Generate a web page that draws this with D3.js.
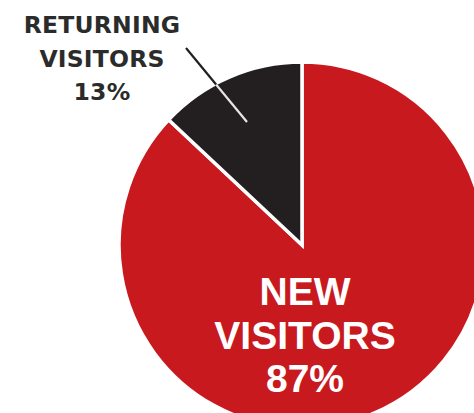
<!DOCTYPE html>
<html>
<head>
<meta charset="utf-8">
<script src="https://cdn.jsdelivr.net/npm/d3@7"></script>
<style>
  html, body { margin: 0; padding: 0; background: #ffffff; }
  svg { display: block; }
</style>
</head>
<body>
<svg id="chart" width="474" height="413"></svg>
<script>
// Visitor share
const categories = ["NEW VISITORS", "RETURNING VISITORS"];
const values = [87, 13];
const colors = ["#c8191f", "#231f20"];

const W = 474, H = 413;
const cx = 302, cy = 245, r = 183;

const svg = d3.select("#chart");
const g = svg.append("g").attr("transform", `translate(${cx},${cy})`);

const pie = d3.pie().sort(null).value(d => d.value);
const arcs = pie(categories.map((c, i) => ({ name: c, value: values[i], color: colors[i] })));
const arc = d3.arc().innerRadius(0).outerRadius(r);

g.selectAll("path.slice")
  .data(arcs)
  .join("path")
  .attr("class", "slice")
  .attr("d", arc)
  .attr("fill", d => d.data.color)
  .attr("stroke", "#ffffff")
  .attr("stroke-width", 3.5)
  .attr("stroke-linejoin", "miter");

// Leader line from the label into the small slice:
// dark over the background, light where it crosses the slice
const leaderFrom = [186, 48];
const leaderTo = [247, 122];

svg.append("clipPath").attr("id", "pieClip")
  .append("circle").attr("cx", cx).attr("cy", cy).attr("r", r - 1);

svg.append("line")
  .attr("x1", leaderFrom[0]).attr("y1", leaderFrom[1])
  .attr("x2", leaderTo[0]).attr("y2", leaderTo[1])
  .attr("stroke", "#231f20").attr("stroke-width", 2.2);
svg.append("g").attr("clip-path", "url(#pieClip)")
  .append("line")
  .attr("x1", leaderFrom[0]).attr("y1", leaderFrom[1])
  .attr("x2", leaderTo[0]).attr("y2", leaderTo[1])
  .attr("stroke", "#e6e6e6").attr("stroke-width", 2.2);

// Labels
const fmt = v => v + "%";
const retLabel = svg.append("text")
  .attr("text-anchor", "middle")
  .attr("fill", "#2b2b2b")
  .attr("font-family", "'DejaVu Sans', sans-serif")
  .attr("font-weight", "bold")
  .attr("font-size", 23.5)
  .attr("letter-spacing", 0.2);
["RETURNING", "VISITORS", fmt(values[1])].forEach((t, i) => {
  retLabel.append("tspan").attr("x", 102).attr("y", 33 + i * 33.5).text(t);
});

const newLabel = svg.append("text")
  .attr("text-anchor", "middle")
  .attr("fill", "#ffffff")
  .attr("font-family", "'Liberation Sans', Arial, sans-serif")
  .attr("font-weight", "bold")
  .attr("font-size", 39);
["NEW", "VISITORS", fmt(values[0])].forEach((t, i) => {
  newLabel.append("tspan").attr("x", 305).attr("y", 305 + i * 43.5).text(t);
});
</script>
</body>
</html>
